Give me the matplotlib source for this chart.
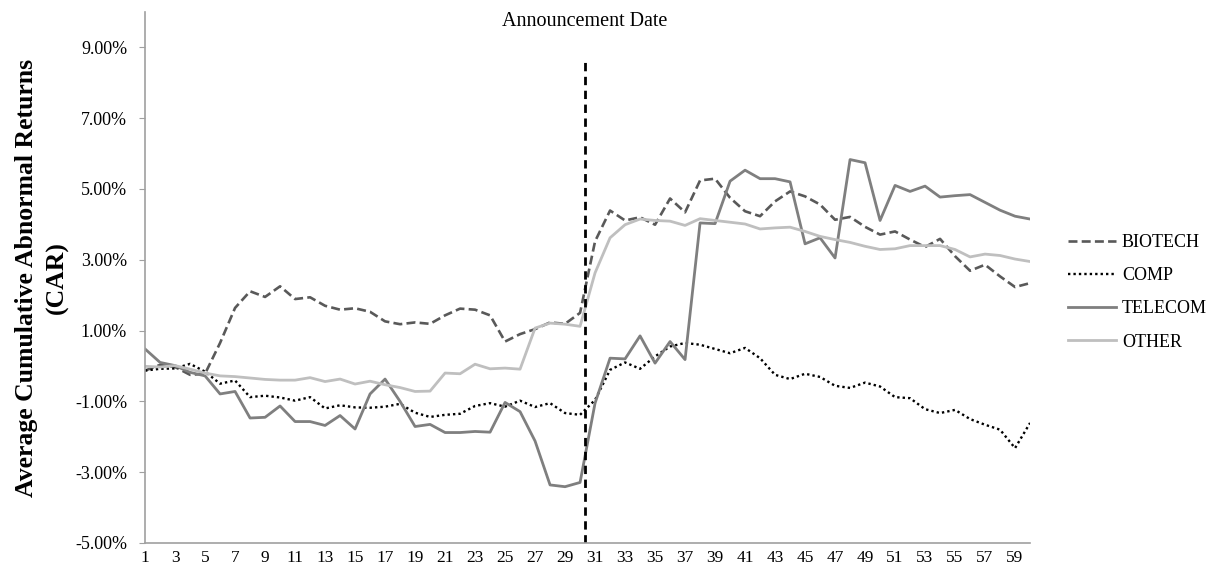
"""Average CAR by industry around the announcement date."""

import matplotlib
matplotlib.use("Agg")
import matplotlib.pyplot as plt
from matplotlib.ticker import FuncFormatter

days = list(range(1, 61))

biotech = [-0.13, 0.03, -0.03, -0.25, -0.22, 0.65, 1.64, 2.11, 1.95, 2.25,
           1.89, 1.94, 1.70, 1.59, 1.63, 1.53, 1.26, 1.18, 1.23, 1.19,
           1.43, 1.62, 1.59, 1.43, 0.69, 0.90, 1.04, 1.23, 1.19, 1.50,
           3.52, 4.39, 4.11, 4.20, 3.99, 4.73, 4.34, 5.24, 5.29, 4.75,
           4.37, 4.23, 4.65, 4.93, 4.79, 4.56, 4.13, 4.21, 3.93, 3.71,
           3.80, 3.57, 3.36, 3.59, 3.10, 2.69, 2.86, 2.53, 2.23, 2.34]

comp = [-0.13, -0.08, -0.07, 0.06, -0.16, -0.50, -0.41, -0.88, -0.84, -0.89,
        -0.98, -0.88, -1.20, -1.11, -1.17, -1.18, -1.15, -1.07, -1.32, -1.44,
        -1.38, -1.35, -1.13, -1.05, -1.15, -0.98, -1.16, -1.05, -1.33, -1.38,
        -0.96, -0.11, 0.10, -0.08, 0.27, 0.55, 0.65, 0.60, 0.48, 0.36,
        0.51, 0.22, -0.25, -0.37, -0.22, -0.31, -0.56, -0.62, -0.47, -0.58,
        -0.88, -0.91, -1.22, -1.33, -1.24, -1.50, -1.66, -1.80, -2.32, -1.61]

telecom = [0.48, 0.10, 0.01, -0.18, -0.28, -0.79, -0.72, -1.47, -1.45, -1.13,
           -1.57, -1.57, -1.68, -1.40, -1.78, -0.79, -0.37, -1.00, -1.71, -1.65,
           -1.88, -1.88, -1.85, -1.87, -1.03, -1.29, -2.12, -3.36, -3.41, -3.29,
           -1.05, 0.22, 0.20, 0.85, 0.08, 0.69, 0.18, 4.04, 4.02, 5.22,
           5.53, 5.29, 5.29, 5.20, 3.45, 3.62, 3.05, 5.83, 5.74, 4.11,
           5.10, 4.93, 5.08, 4.77, 4.81, 4.84, 4.62, 4.40, 4.23, 4.15]

other = [-0.01, -0.03, 0.01, -0.09, -0.20, -0.28, -0.30, -0.34, -0.38, -0.40,
         -0.40, -0.33, -0.44, -0.37, -0.51, -0.43, -0.53, -0.61, -0.72, -0.71,
         -0.20, -0.22, 0.05, -0.08, -0.06, -0.09, 1.07, 1.21, 1.18, 1.12,
         2.63, 3.62, 3.99, 4.15, 4.11, 4.09, 3.97, 4.16, 4.11, 4.06,
         4.01, 3.87, 3.90, 3.92, 3.80, 3.66, 3.57, 3.49, 3.38, 3.29,
         3.31, 3.40, 3.40, 3.40, 3.29, 3.08, 3.16, 3.12, 3.02, 2.95]

y_ticks = [-5, -3, -1, 1, 3, 5, 7, 9]
x_ticks = list(range(1, 60, 2))

announce_day = 30.3
announce_top = 8.7

plt.rcParams["font.family"] = ["Liberation Serif", "DejaVu Serif"]

fig = plt.figure(figsize=(12.19, 5.76), dpi=100)
ax = fig.add_axes([0.119, 0.0573, 0.726, 0.922])

ax.plot(days, biotech, color="#595959", lw=1.9, dashes=(3.4, 1.6), label="BIOTECH")
ax.plot(days, comp, color="black", lw=1.7, dashes=(1, 1.3), label="COMP")
ax.plot(days, telecom, color="#7f7f7f", lw=2.0, label="TELECOM")
ax.plot(days, other, color="#bfbfbf", lw=2.0, label="OTHER")

ax.vlines(announce_day, -5, announce_top, colors="black", lw=2.0,
          linestyles=(0, (3, 2)))
ax.text(announce_day, 9.72, "Announcement Date", ha="center", va="center",
        fontsize=14.5)

ax.set_xlim(1, 60)
ax.set_ylim(-5, 10)
ax.set_yticks(y_ticks)
ax.set_xticks(x_ticks)
ax.yaxis.set_major_formatter(FuncFormatter(lambda v, _: f"{v:.2f}%"))
ax.tick_params(axis="y", length=4, color="#a0a0a0", labelsize=13, pad=9)
ax.tick_params(axis="x", length=0, labelsize=12.5, pad=5)

for side in ("top", "right"):
    ax.spines[side].set_visible(False)
for side in ("left", "bottom"):
    ax.spines[side].set_color("#a0a0a0")
    ax.spines[side].set_linewidth(1.2)

ax.set_ylabel("Average Cumulative Abnormal Returns\n(CAR)", fontsize=18.5,
              fontweight="bold", labelpad=4, linespacing=1.45)

fig.legend(loc="center left", bbox_to_anchor=(0.8685, 0.4925), frameon=False,
           fontsize=13, handlelength=2.7, handletextpad=0.3,
           labelspacing=0.9, borderpad=0)

fig.savefig("out.png", dpi=100)
